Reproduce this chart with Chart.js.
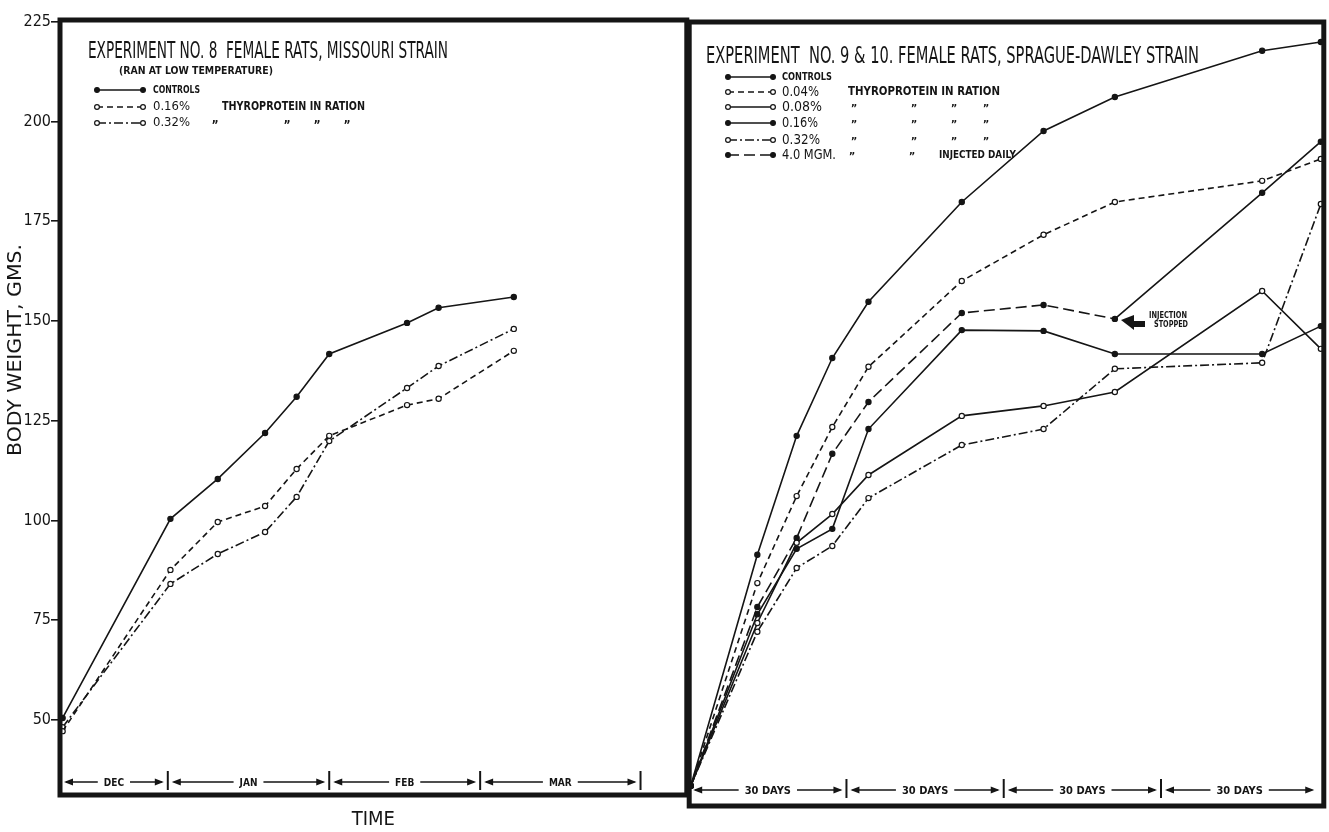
<!DOCTYPE html>
<html>
<head>
<meta charset="utf-8">
<title>Body weight of female rats</title>
<script src="https://cdn.jsdelivr.net/npm/chart.js@4.4.1/dist/chart.umd.min.js"></script>
<style>
  html, body { margin: 0; padding: 0; background: #fff; }
  #wrap { position: relative; width: 1329px; height: 832px; overflow: hidden; }
  canvas { position: absolute; top: 0; }
  #chartLeft { left: 0; }
  #chartRight { left: 684px; }
</style>
</head>
<body>
<div id="wrap">
  <canvas id="chartLeft" width="692" height="832"></canvas>
  <canvas id="chartRight" width="645" height="832"></canvas>
</div>
<script>
"use strict";

// ---- data (days from start of experiment, body weight in grams) ----
var yTicks = [50, 75, 100, 125, 150, 175, 200, 225];

// experiment no. 8, missouri strain
var leftDays     = [0.5, 21, 30, 39, 45, 51.2, 66, 72, 86.3];
var leftControls = [50.5, 100.4, 110.4, 121.9, 131, 141.7, 149.5, 153.3, 156];
var left016      = [47.2, 87.6, 99.6, 103.6, 112.9, 121.2, 128.9, 130.5, 142.5];
var left032      = [48.2, 84.1, 91.6, 97.1, 105.9, 119.9, 133.2, 138.7, 148];
var monthLabels  = ["DEC", "JAN", "FEB", "MAR"];
var monthEdges   = [0, 20.5, 51.2, 79.9, 110.4];
var monthDividers = [20.5, 51.2, 79.9, 110.4];

// experiment no. 9 & 10, sprague-dawley strain
var rightDays     = [0.3, 13, 20.5, 27.3, 34.2, 52, 67.6, 81.2, 109.3, 120.5];
var rightControls = [33.5, 91.4, 121.2, 140.7, 154.8, 179.8, 197.6, 206.1, 217.7, 219.9];
var right004      = [33.5, 84.3, 106.1, 123.4, 138.5, 160, 171.6, 179.8, 185.1, 190.6];
var right008      = [33.5, 74.3, 94.4, 101.6, 111.4, 126.2, 128.7, 132.2, 157.5, 143];
var right016      = [33.5, 76.5, 92.9, 97.9, 122.9, 147.7, 147.5, 141.7, 141.7, 148.7];
var right032      = [33.5, 72.1, 88.1, 93.6, 105.6, 118.9, 122.9, 138, 139.5, 179.3];
var right4mgm     = [33.5, 78.3, 95.6, 116.7, 129.7, 152, 154, 150.5, 182.1, 194.9];
var injectionStoppedIndex = 7;
var periodLabels  = ["30 DAYS", "30 DAYS", "30 DAYS", "30 DAYS"];
var periodEdges   = [0, 30, 60, 90, 120];
var periodDividers = [30, 60, 90];

// ---- style ----
var INK = "#151515";
var FONT = '"Liberation Sans Narrow", "DejaVu Sans Condensed", "Liberation Sans", sans-serif';
var DASH = [6, 4];
var DASHDOT = [9, 3, 2, 3];
var LONGDASH = [11, 5];

Chart.defaults.font.family = FONT;
Chart.defaults.color = INK;

function series(label, days, values, open, dash) {
  return {
    label: label,
    data: days.map(function(d, i) { return {x: d, y: values[i]}; }),
    borderColor: INK,
    borderWidth: 1.6,
    borderDash: dash,
    pointRadius: 2.6,
    pointBorderWidth: 1.2,
    pointBorderColor: INK,
    pointBackgroundColor: open ? "#fff" : INK,
    fill: false,
    tension: 0
  };
}

function fitText(ctx, text, x, y, w, font) {
  ctx.save();
  ctx.font = font;
  ctx.textAlign = "left";
  ctx.textBaseline = "middle";
  var m = ctx.measureText(text).width;
  ctx.translate(x, y);
  ctx.scale(w / m, 1);
  ctx.fillStyle = INK;
  ctx.fillText(text, 0, 0);
  ctx.restore();
}

function plainText(ctx, text, x, y, font) {
  ctx.save();
  ctx.font = font;
  ctx.textAlign = "center";
  ctx.textBaseline = "middle";
  ctx.fillStyle = INK;
  ctx.fillText(text, x, y);
  ctx.restore();
}

function drawFrame(ctx, a) {
  ctx.save();
  ctx.strokeStyle = INK;
  ctx.lineWidth = 5;
  ctx.setLineDash([]);
  ctx.strokeRect(a.left, a.top, a.right - a.left, a.bottom - a.top);
  ctx.restore();
}

function drawMarker(ctx, ds, x, y) {
  ctx.beginPath();
  ctx.setLineDash([]);
  ctx.arc(x, y, 2.4, 0, Math.PI * 2);
  ctx.fillStyle = ds.pointBackgroundColor;
  ctx.fill();
  ctx.lineWidth = 1.2;
  ctx.stroke();
}

function drawSample(ctx, ds, x0, x1, y) {
  ctx.save();
  ctx.strokeStyle = INK;
  ctx.lineWidth = 1.6;
  ctx.setLineDash(ds.borderDash || []);
  ctx.beginPath();
  ctx.moveTo(x0, y);
  ctx.lineTo(x1, y);
  ctx.stroke();
  drawMarker(ctx, ds, x0, y);
  drawMarker(ctx, ds, x1, y);
  ctx.restore();
}

function arrowHead(ctx, x, y, dir) {
  ctx.beginPath();
  ctx.moveTo(x, y);
  ctx.lineTo(x - dir * 9, y - 3.5);
  ctx.lineTo(x - dir * 9, y + 3.5);
  ctx.closePath();
  ctx.fill();
}

function drawPeriods(chart, labels, edges, dividers, y, font) {
  var ctx = chart.ctx;
  var xs = chart.scales.x;
  ctx.save();
  ctx.strokeStyle = INK;
  ctx.fillStyle = INK;
  ctx.setLineDash([]);
  ctx.font = font;
  labels.forEach(function(lab, i) {
    var x0 = xs.getPixelForValue(edges[i]) + 4;
    var x1 = xs.getPixelForValue(edges[i + 1]) - 4;
    var mid = (x0 + x1) / 2;
    var half = ctx.measureText(lab).width / 2 + 6;
    ctx.lineWidth = 1.3;
    ctx.beginPath();
    ctx.moveTo(x0 + 2, y); ctx.lineTo(mid - half, y);
    ctx.moveTo(mid + half, y); ctx.lineTo(x1 - 2, y);
    ctx.stroke();
    arrowHead(ctx, x0, y, -1);
    arrowHead(ctx, x1, y, 1);
    ctx.textAlign = "center";
    ctx.textBaseline = "middle";
    ctx.fillText(lab, mid, y + 1);
  });
  ctx.lineWidth = 2;
  dividers.forEach(function(d) {
    var x = xs.getPixelForValue(d);
    ctx.beginPath();
    ctx.moveTo(x, y - 11);
    ctx.lineTo(x, y + 8);
    ctx.stroke();
  });
  ctx.restore();
}

var leftSheet = {
  id: "leftSheet",
  afterDraw: function(chart) {
    var ctx = chart.ctx;
    drawFrame(ctx, chart.chartArea);

    // y axis title, set high on the axis as in the original sheet
    ctx.save();
    ctx.translate(16, 350);
    ctx.rotate(-Math.PI / 2);
    fitText(ctx, "BODY WEIGHT, GMS.", -106, 0, 212, "19px " + FONT);
    ctx.restore();

    fitText(ctx, "EXPERIMENT NO. 8  FEMALE RATS, MISSOURI STRAIN", 88, 52, 360, "23px " + FONT);
    fitText(ctx, "(RAN AT LOW TEMPERATURE)", 119, 71, 154, "bold 10px " + FONT);
    var rows = [90, 107, 123];
    var widths = [47, 37, 37];
    chart.data.datasets.forEach(function(ds, i) {
      drawSample(ctx, ds, 97, 143, rows[i]);
      fitText(ctx, ds.label, 153, rows[i], widths[i], (i === 0 ? "bold 11px " : "13px ") + FONT);
    });
    fitText(ctx, "THYROPROTEIN IN RATION", 222, 107, 143, "bold 12px " + FONT);
    [215, 287, 317, 347].forEach(function(x) {
      plainText(ctx, "\u201D", x, 126, "bold 12px " + FONT);
    });
    drawPeriods(chart, monthLabels, monthEdges, monthDividers, chart.chartArea.bottom - 13, "bold 10px " + FONT);
  }
};

var rightSheet = {
  id: "rightSheet",
  afterDraw: function(chart) {
    var ctx = chart.ctx;
    var ox = -684; // page x -> canvas x
    drawFrame(ctx, chart.chartArea);
    fitText(ctx, "EXPERIMENT  NO. 9 & 10. FEMALE RATS, SPRAGUE-DAWLEY STRAIN", 706 + ox, 57, 493, "23px " + FONT);
    var rows = [77, 92, 107, 123, 140, 155];
    var widths = [50, 37, 40, 36, 38, 54];
    chart.data.datasets.forEach(function(ds, i) {
      drawSample(ctx, ds, 728 + ox, 773 + ox, rows[i]);
      fitText(ctx, ds.label, 782 + ox, rows[i], widths[i], (i === 0 ? "bold 11px " : "14px ") + FONT);
    });
    fitText(ctx, "THYROPROTEIN IN RATION", 848 + ox, 92, 152, "bold 12px " + FONT);
    [107, 123, 140].forEach(function(y) {
      [854, 914, 954, 986].forEach(function(x) {
        plainText(ctx, "\u201D", x + ox, y + 2, "bold 11px " + FONT);
      });
    });
    [852, 912].forEach(function(x) {
      plainText(ctx, "\u201D", x + ox, 157, "bold 11px " + FONT);
    });
    fitText(ctx, "INJECTED DAILY", 939 + ox, 155, 77, "bold 11px " + FONT);

    // injection stopped note
    fitText(ctx, "INJECTION", 1149 + ox, 316, 38, "bold 9px " + FONT);
    fitText(ctx, "STOPPED", 1154 + ox, 325, 34, "bold 9px " + FONT);
    ctx.save();
    ctx.fillStyle = INK;
    ctx.fillRect(1131 + ox, 321, 14, 6);
    ctx.beginPath();
    ctx.moveTo(1121 + ox, 320);
    ctx.lineTo(1134 + ox, 315);
    ctx.lineTo(1134 + ox, 330);
    ctx.closePath();
    ctx.fill();
    ctx.restore();

    drawPeriods(chart, periodLabels, periodEdges, periodDividers, chart.chartArea.bottom - 16, "bold 11px " + FONT);
  }
};

var chartLeft = new Chart("chartLeft", {
  type: "line",
  data: {
    datasets: [
      series("CONTROLS", leftDays, leftControls, false, []),
      series("0.16%", leftDays, left016, true, DASH),
      series("0.32%", leftDays, left032, true, DASHDOT)
    ]
  },
  options: {
    responsive: false,
    animation: false,
    devicePixelRatio: 1,
    events: [],
    layout: { padding: { top: 20, right: 4, bottom: 0, left: 0 } },
    plugins: { legend: { display: false }, tooltip: { enabled: false } },
    scales: {
      x: {
        type: "linear",
        min: 0,
        max: 119.2,
        ticks: { display: false },
        grid: { display: false },
        border: { display: false },
        title: { display: true, text: "TIME", font: { size: 20 }, color: INK, padding: { top: 0, bottom: 0 } },
        afterFit: function(s) { s.height = 37; }
      },
      y: {
        min: 31.2,
        max: 225.4,
        afterBuildTicks: function(s) { s.ticks = yTicks.map(function(v) { return {value: v}; }); },
        ticks: { font: { size: 16 }, color: INK, padding: 0 },
        grid: { drawOnChartArea: false, tickLength: 9, color: INK, lineWidth: 1.6 },
        border: { display: false },
        afterFit: function(s) { s.width = 60; }
      }
    }
  },
  plugins: [leftSheet]
});

var right4mgmSeries = series("4.0 MGM.", rightDays, right4mgm, false, LONGDASH);
right4mgmSeries.segment = {
  borderDash: function(ctx) { return ctx.p0DataIndex >= injectionStoppedIndex ? [] : undefined; }
};

var chartRight = new Chart("chartRight", {
  type: "line",
  data: {
    datasets: [
      series("CONTROLS", rightDays, rightControls, false, []),
      series("0.04%", rightDays, right004, true, DASH),
      series("0.08%", rightDays, right008, true, []),
      series("0.16%", rightDays, right016, false, []),
      series("0.32%", rightDays, right032, true, DASHDOT),
      right4mgmSeries
    ]
  },
  options: {
    responsive: false,
    animation: false,
    devicePixelRatio: 1,
    events: [],
    layout: { padding: { top: 22, right: 3, bottom: 26, left: 4 } },
    plugins: { legend: { display: false }, tooltip: { enabled: false } },
    scales: {
      x: { type: "linear", min: 0, max: 121.06, display: false },
      y: {
        min: 28.45,
        max: 224.9,
        display: false,
        afterBuildTicks: function(s) { s.ticks = yTicks.map(function(v) { return {value: v}; }); }
      }
    }
  },
  plugins: [rightSheet]
});
</script>
</body>
</html>
